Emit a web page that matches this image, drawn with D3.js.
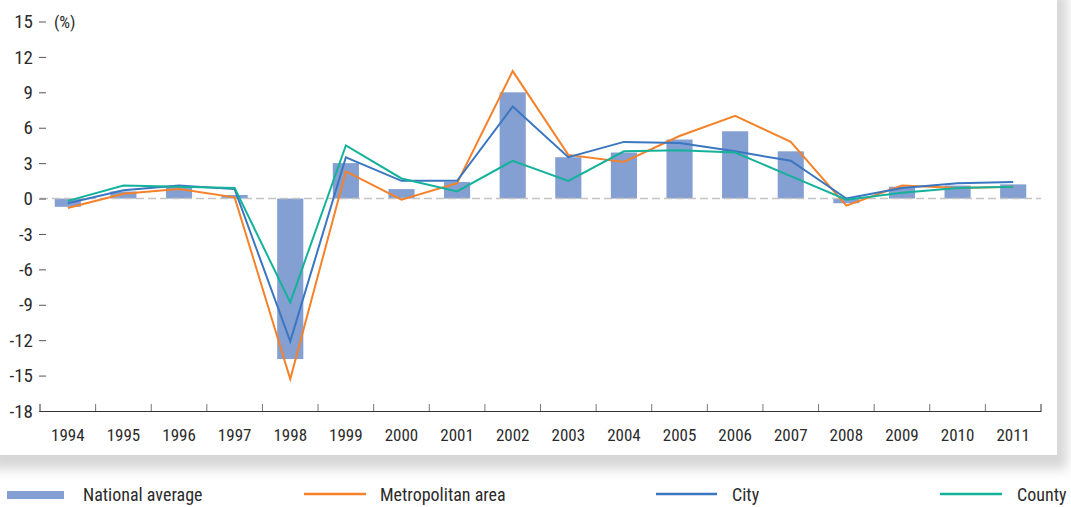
<!DOCTYPE html>
<html>
<head>
<meta charset="utf-8">
<script src="https://cdn.jsdelivr.net/npm/d3@7"></script>
<style>
  html, body { margin: 0; padding: 0; background: #ffffff; }
  svg text { font-family: "Liberation Sans Narrow", "Roboto Condensed", "DejaVu Sans Condensed", sans-serif; fill: #2b2b2b; }
</style>
</head>
<body>
<svg id="chart" width="1071" height="507"></svg>
<script>
// Annual growth rates (%), 1994–2011
const years = ["1994","1995","1996","1997","1998","1999","2000","2001","2002","2003","2004","2005","2006","2007","2008","2009","2010","2011"];
const nationalAverage = [-0.7, 0.6, 1.0, 0.3, -13.6, 3.0, 0.8, 1.4, 9.0, 3.5, 3.9, 5.0, 5.7, 4.0, -0.4, 1.0, 1.1, 1.2];
const metropolitanArea = [-0.8, 0.4, 0.8, 0.1, -15.3, 2.3, -0.1, 1.3, 10.8, 3.7, 3.1, 5.3, 7.0, 4.8, -0.6, 1.1, 0.9, 1.0];
const city = [-0.4, 0.7, 1.1, 0.8, -12.1, 3.5, 1.5, 1.5, 7.8, 3.5, 4.8, 4.7, 4.0, 3.2, 0.0, 0.9, 1.3, 1.4];
const county = [-0.2, 1.1, 1.0, 0.9, -8.8, 4.5, 1.7, 0.6, 3.2, 1.5, 4.0, 4.1, 3.9, 1.9, -0.1, 0.5, 0.9, 1.0];
const yTicks = [15, 12, 9, 6, 3, 0, -3, -6, -9, -12, -15, -18];
const unitLabel = "(%)";
const seriesNames = ["National average", "Metropolitan area", "City", "County"];

const colors = {
  bar: "#849fd1",
  metro: "#f5822a",
  city: "#3b76c1",
  county: "#14b29a"
};

const svg = d3.select("#chart");

// Card panel with soft shadow
const defs = svg.append("defs");
const f = defs.append("filter").attr("id", "cardShadow")
  .attr("x", "-5%").attr("y", "-5%").attr("width", "115%").attr("height", "125%");
f.append("feDropShadow").attr("dx", 10).attr("dy", 14)
  .attr("stdDeviation", 6).attr("flood-color", "#000").attr("flood-opacity", 0.16);
svg.append("rect").attr("x", -20).attr("y", -20).attr("width", 1077).attr("height", 475)
  .attr("fill", "#ffffff").attr("filter", "url(#cardShadow)");

const x = d3.scaleBand().domain(years).range([40, 1041]).padding(0);
const y = d3.scaleLinear().domain([-18, 15]).range([411, 21.5]);
const barW = x.bandwidth() * 0.47;

// Bars
svg.append("g").selectAll("rect").data(years).join("rect")
  .attr("x", (d) => x(d) + (x.bandwidth() - barW) / 2)
  .attr("width", barW)
  .attr("y", (d, i) => y(Math.max(0, nationalAverage[i])))
  .attr("height", (d, i) => Math.abs(y(nationalAverage[i]) - y(0)))
  .attr("fill", colors.bar);

// Zero reference line
svg.append("line")
  .attr("x1", 40).attr("x2", 1041)
  .attr("y1", y(0)).attr("y2", y(0))
  .attr("stroke", "#c4c4c4").attr("stroke-width", 1.5)
  .attr("stroke-dasharray", "8,4");

// Lines
const line = d3.line()
  .x((d, i) => x(years[i]) + x.bandwidth() / 2)
  .y((d) => y(d));
[[metropolitanArea, colors.metro], [city, colors.city], [county, colors.county]].forEach(([vals, c]) => {
  svg.append("path").datum(vals)
    .attr("d", line)
    .attr("fill", "none")
    .attr("stroke", c)
    .attr("stroke-width", 2)
    .attr("stroke-linejoin", "miter");
});

// Y axis
const yAxis = svg.append("g").attr("transform", "translate(46,0)")
  .call(d3.axisLeft(y).tickValues(yTicks).tickSize(7).tickPadding(6).tickFormat((d) => String(d)));
yAxis.select(".domain").remove();
yAxis.selectAll(".tick line").attr("stroke", "#555").attr("stroke-width", 1);
yAxis.selectAll(".tick text").attr("font-size", 19).attr("fill", "#2b2b2b");

svg.append("text").attr("x", 54).attr("y", 28).attr("font-size", 17).text(unitLabel);

// X axis
const xAxis = svg.append("g").attr("transform", "translate(0,411)")
  .call(d3.axisBottom(x).tickSizeInner(0).tickSizeOuter(0).tickPadding(18));
xAxis.select(".domain").attr("stroke", "#333").attr("stroke-width", 1);
xAxis.selectAll(".tick text").attr("font-size", 17).attr("fill", "#2b2b2b");

// Category boundary ticks
const bounds = years.map((d) => x(d)).concat([x.range()[1]]);
svg.append("g").selectAll("line").data(bounds).join("line")
  .attr("x1", (d) => d).attr("x2", (d) => d)
  .attr("y1", 411).attr("y2", 404)
  .attr("stroke", (d, i) => (i === 0 || i === bounds.length - 1) ? "#333" : "#777")
  .attr("stroke-width", 1);

// Legend
const lg = svg.append("g");
const ly = 495;
lg.append("rect").attr("x", 7).attr("y", ly - 4).attr("width", 57).attr("height", 8).attr("fill", colors.bar);
lg.append("text").attr("x", 83).attr("y", ly + 6).attr("font-size", 18).text(seriesNames[0]);
const legendLines = [
  { x1: 304, x2: 366, tx: 380, c: colors.metro, name: seriesNames[1] },
  { x1: 656, x2: 717, tx: 732, c: colors.city, name: seriesNames[2] },
  { x1: 940, x2: 1002, tx: 1017, c: colors.county, name: seriesNames[3] }
];
legendLines.forEach((o) => {
  lg.append("line").attr("x1", o.x1).attr("x2", o.x2).attr("y1", ly - 1).attr("y2", ly - 1)
    .attr("stroke", o.c).attr("stroke-width", 2.5);
  lg.append("text").attr("x", o.tx).attr("y", ly + 6).attr("font-size", 18).text(o.name);
});
</script>
</body>
</html>
